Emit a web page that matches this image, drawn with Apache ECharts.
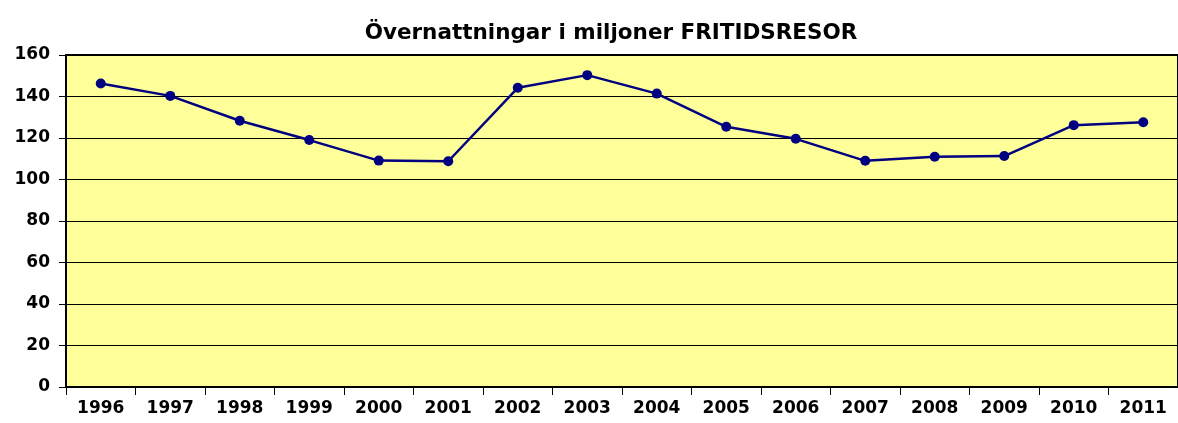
<!DOCTYPE html>
<html>
<head>
<meta charset="utf-8">
<script src="https://cdn.jsdelivr.net/npm/echarts@6/dist/echarts.min.js"></script>
<style>
  html, body { margin: 0; padding: 0; background: #fff; }
  #main { width: 1178px; height: 423px; }
</style>
</head>
<body>
<div id="main"></div>
<script>
// years and overnight stays (millions), leisure trips
var years = ['1996', '1997', '1998', '1999', '2000', '2001', '2002', '2003',
             '2004', '2005', '2006', '2007', '2008', '2009', '2010', '2011'];
var nights = [146.3, 140.3, 128.3, 119, 109.1, 108.8, 144.2, 150.3,
              141.4, 125.4, 119.6, 109, 111, 111.3, 126.2, 127.6];
var yTicks = [0, 20, 40, 60, 80, 100, 120, 140, 160];

var myChart = echarts.init(document.getElementById('main'));

var option = {
    backgroundColor: '#ffffff',
    animation: false,
    title: {
        text: 'Övernattningar i miljoner FRITIDSRESOR',
        left: 606,
        top: 17,
        textAlign: 'center',
        textStyle: {
            fontFamily: 'DejaVu Sans',
            fontWeight: 'bold',
            fontSize: 21.5,
            color: '#000'
        }
    },
    grid: {
        left: 66,
        right: -4,
        top: 55,
        bottom: 36,
        show: true,
        backgroundColor: '#ffff99',
        borderWidth: 2,
        borderColor: '#000'
    },
    xAxis: {
        type: 'category',
        data: years,
        boundaryGap: true,
        axisLine: { lineStyle: { color: '#000', width: 2 } },
        axisTick: { show: true, length: 8, lineStyle: { color: '#000', width: 1 } },
        axisLabel: {
            margin: 13,
            fontFamily: 'DejaVu Sans',
            fontWeight: 'bold',
            fontSize: 17,
            color: '#000'
        },
        splitLine: { show: false }
    },
    yAxis: {
        type: 'value',
        min: yTicks[0],
        max: yTicks[yTicks.length - 1],
        interval: 20,
        axisLine: { show: true, lineStyle: { color: '#000', width: 2 } },
        axisTick: { show: true, length: 7, lineStyle: { color: '#000', width: 1 } },
        axisLabel: {
            margin: 16,
            fontFamily: 'DejaVu Sans',
            fontWeight: 'bold',
            fontSize: 17,
            color: '#000'
        },
        splitLine: { show: true, lineStyle: { color: '#000', width: 1 } }
    },
    series: [
        {
            name: 'Övernattningar',
            type: 'line',
            data: nights,
            symbol: 'circle',
            symbolSize: 10,
            itemStyle: { color: '#000080' },
            lineStyle: { color: '#000080', width: 2.5 }
        }
    ]
};

myChart.setOption(option);
</script>
</body>
</html>
